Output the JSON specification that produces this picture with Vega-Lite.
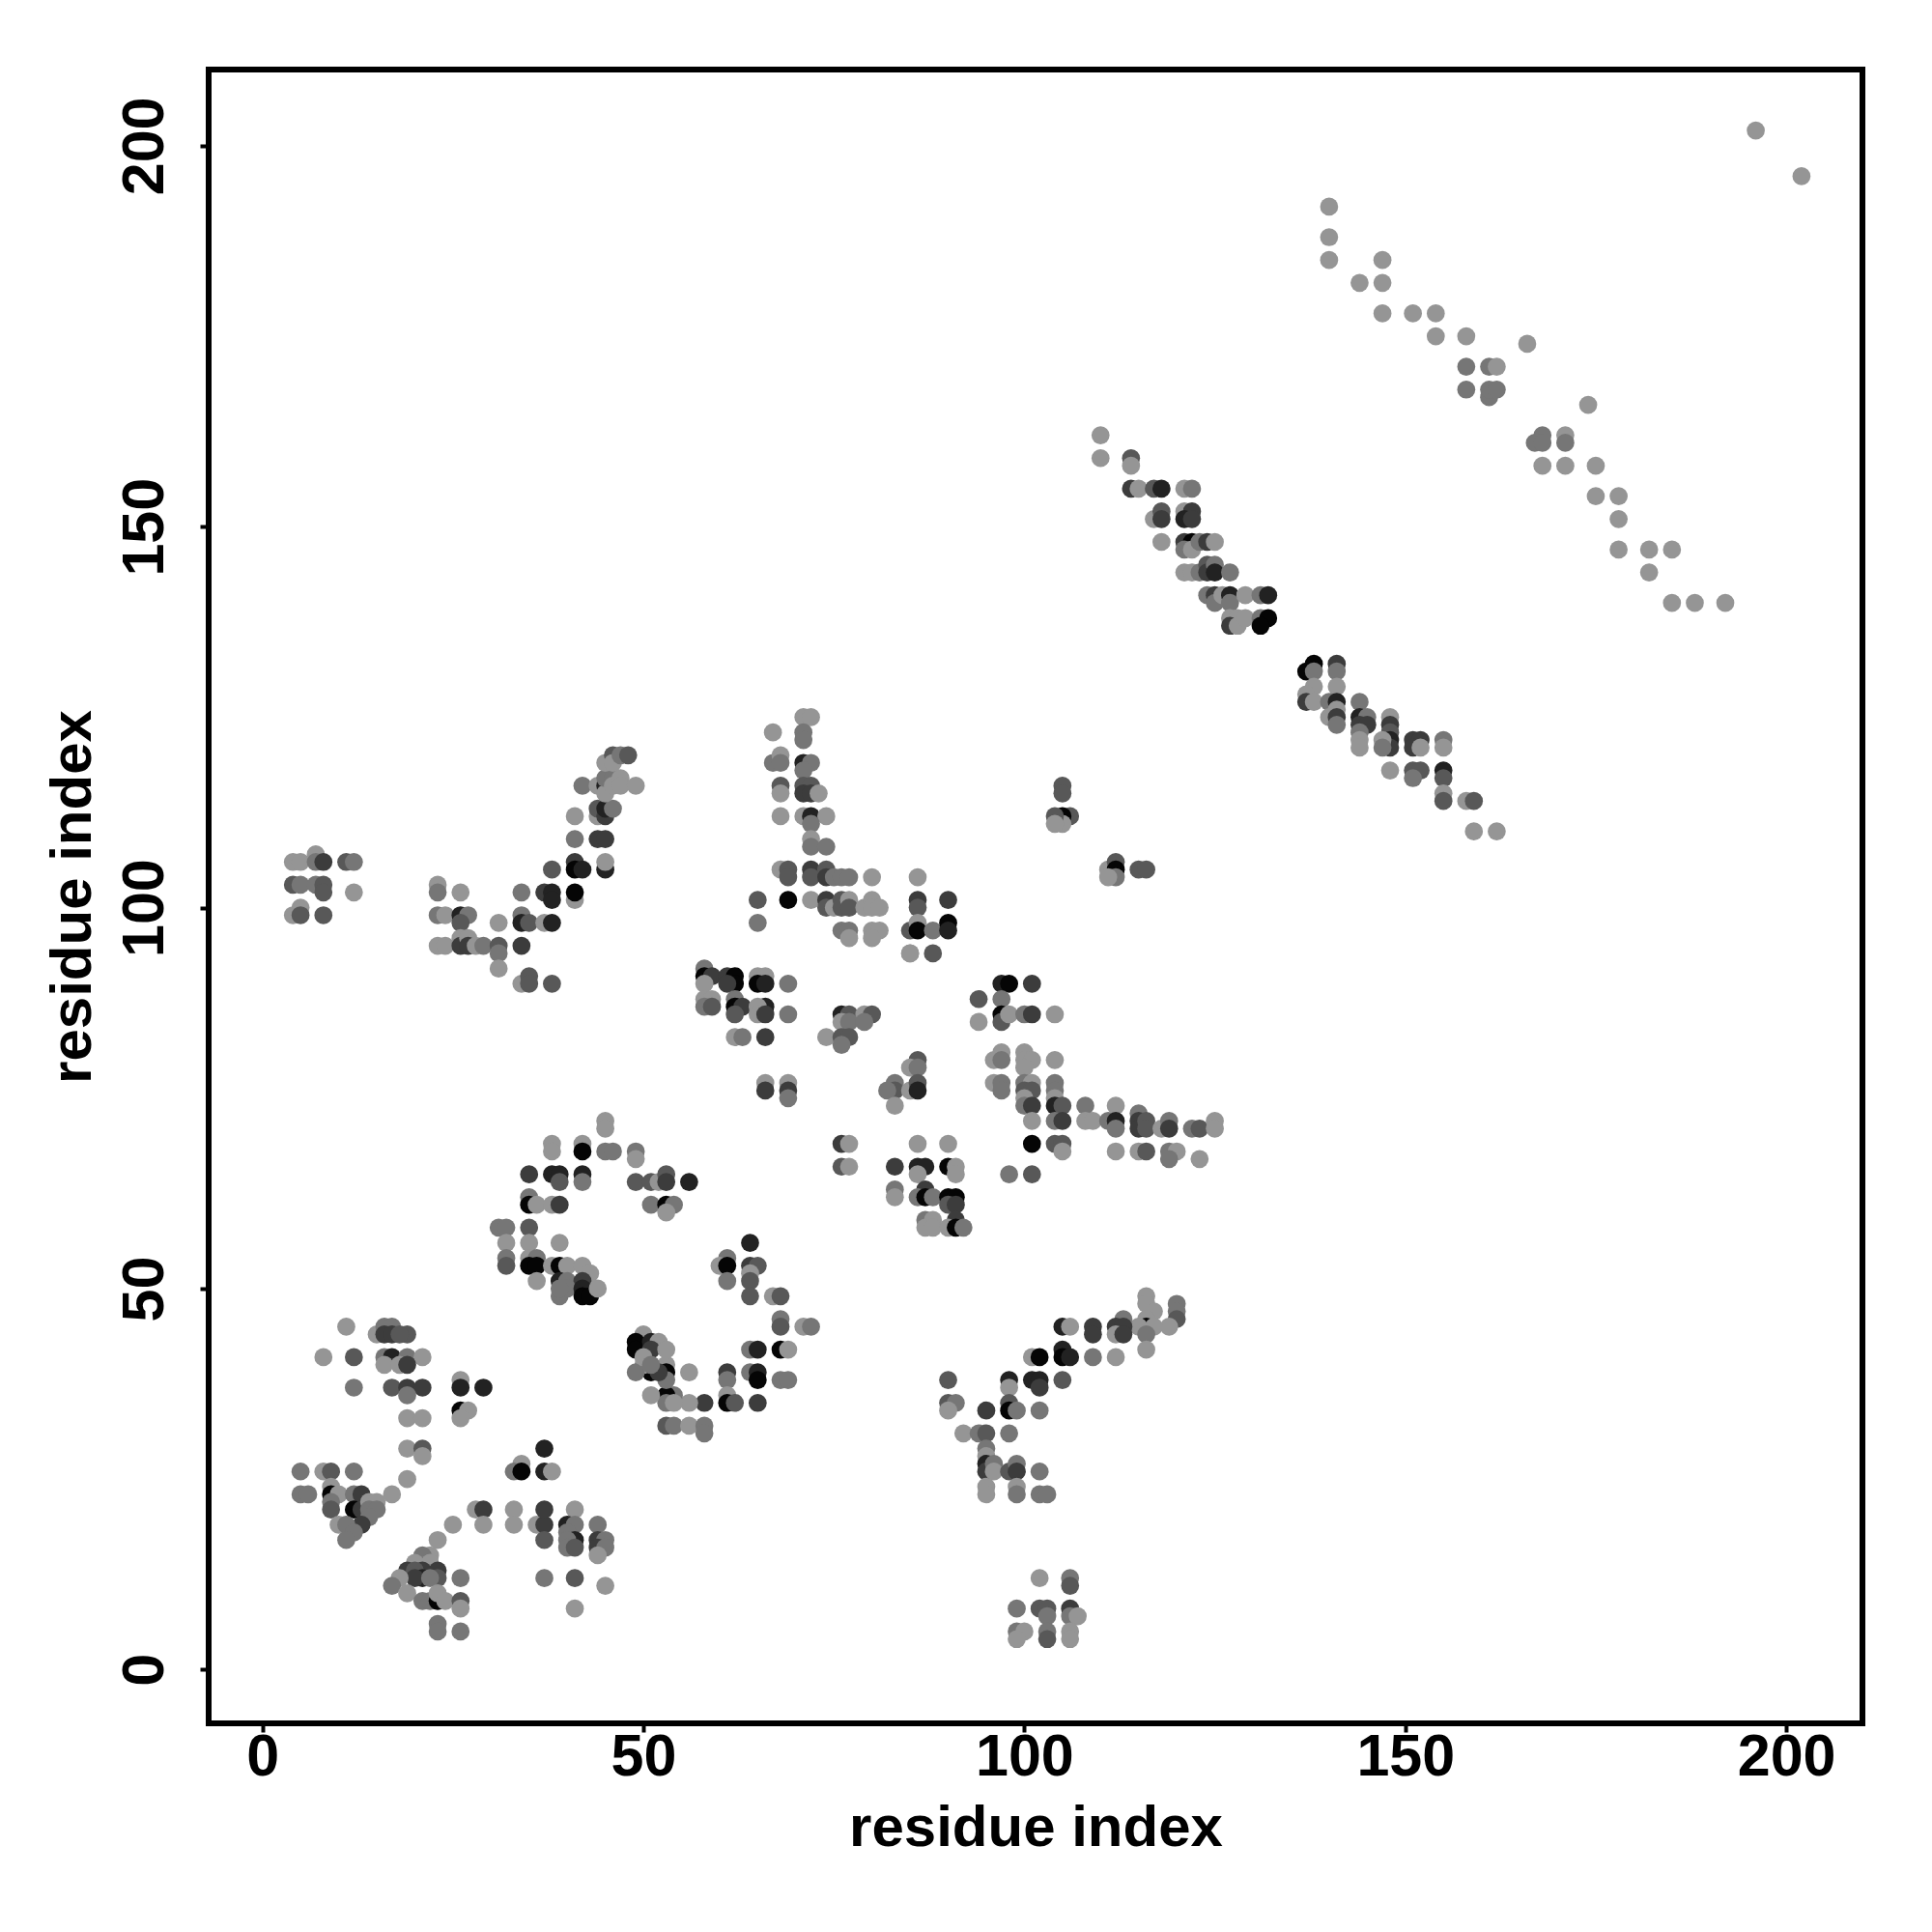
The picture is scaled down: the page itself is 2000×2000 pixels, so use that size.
{"$schema":"https://vega.github.io/schema/vega-lite/v6.json","width":1712,"height":1712,"autosize":{"type":"none"},"padding":{"left":216,"top":72,"right":72,"bottom":216},"background":"white","config":{"view":{"stroke":"#000","strokeWidth":6},"font":"Liberation Sans"},
"data":{"values":[
{"x":11,"y":45,"s":1},{"x":15,"y":44,"s":1},{"x":16,"y":45,"s":2},{"x":17,"y":45,"s":2},{"x":19,"y":44,"s":3},{"x":16,"y":44,"s":4},{"x":17,"y":44,"s":4},{"x":18,"y":44,"s":3},
{"x":8,"y":41,"s":1},{"x":12,"y":41,"s":3},{"x":16,"y":41,"s":2},{"x":17,"y":41,"s":5},{"x":19,"y":41,"s":2},{"x":21,"y":41,"s":1},{"x":16,"y":40,"s":1},{"x":18,"y":40,"s":1},{"x":19,"y":40,"s":4},
{"x":12,"y":37,"s":2},{"x":17,"y":37,"s":3},{"x":19,"y":37,"s":4},{"x":21,"y":37,"s":4},{"x":19,"y":36,"s":2},{"x":19,"y":33,"s":1},{"x":21,"y":33,"s":1},{"x":19,"y":29,"s":1},{"x":21,"y":29,"s":3},{"x":21,"y":28,"s":1},
{"x":26,"y":38,"s":1},{"x":26,"y":37,"s":5},{"x":29,"y":37,"s":5},{"x":26,"y":34,"s":6},{"x":27,"y":34,"s":1},{"x":26,"y":33,"s":1},{"x":37,"y":29,"s":5},{"x":34,"y":27,"s":1},{"x":33,"y":26,"s":2},{"x":34,"y":26,"s":6},{"x":37,"y":26,"s":5},{"x":38,"y":26,"s":1},
{"x":5,"y":26,"s":2},{"x":8,"y":26,"s":1},{"x":9,"y":26,"s":3},{"x":12,"y":26,"s":2},{"x":5,"y":23,"s":2},{"x":6,"y":23,"s":2},{"x":9,"y":24,"s":1},{"x":9,"y":23,"s":6},{"x":10,"y":23,"s":1},{"x":9,"y":22,"s":2},{"x":9,"y":21,"s":3},{"x":12,"y":23,"s":2},{"x":13,"y":23,"s":4},{"x":12,"y":21,"s":6},{"x":13,"y":21,"s":4},{"x":14,"y":22,"s":1},{"x":15,"y":22,"s":1},{"x":14,"y":21,"s":2},{"x":15,"y":21,"s":2},{"x":17,"y":23,"s":1},{"x":14,"y":20,"s":2},{"x":13,"y":19,"s":4},{"x":10,"y":19,"s":1},{"x":11,"y":19,"s":2},{"x":12,"y":18,"s":2},{"x":11,"y":17,"s":2},{"x":19,"y":25,"s":1},
{"x":23,"y":17,"s":1},{"x":25,"y":19,"s":1},{"x":28,"y":21,"s":1},{"x":29,"y":21,"s":4},{"x":29,"y":19,"s":1},{"x":33,"y":21,"s":1},{"x":33,"y":19,"s":1},{"x":36,"y":19,"s":1},{"x":37,"y":19,"s":4},{"x":37,"y":21,"s":4},{"x":37,"y":17,"s":3},{"x":41,"y":21,"s":1},{"x":40,"y":19,"s":5},{"x":41,"y":19,"s":2},{"x":40,"y":18,"s":2},{"x":41,"y":17,"s":5},{"x":40,"y":17,"s":2},{"x":40,"y":16,"s":2},{"x":41,"y":16,"s":3},{"x":44,"y":19,"s":2},{"x":44,"y":17,"s":4},{"x":45,"y":17,"s":2},{"x":44,"y":16,"s":4},{"x":45,"y":16,"s":2},{"x":44,"y":15,"s":1},{"x":37,"y":12,"s":2},{"x":41,"y":12,"s":3},{"x":45,"y":11,"s":1},{"x":41,"y":8,"s":1},
{"x":22,"y":15,"s":1},{"x":21,"y":15,"s":2},{"x":20,"y":14,"s":1},{"x":22,"y":14,"s":1},{"x":23,"y":13,"s":4},{"x":19,"y":13,"s":4},{"x":21,"y":13,"s":4},{"x":20,"y":13,"s":3},{"x":26,"y":12,"s":2},{"x":23,"y":12,"s":3},{"x":21,"y":12,"s":5},{"x":20,"y":12,"s":4},{"x":22,"y":12,"s":2},{"x":18,"y":12,"s":1},{"x":17,"y":11,"s":2},{"x":19,"y":10,"s":1},{"x":21,"y":9,"s":2},{"x":22,"y":9,"s":2},{"x":23,"y":9,"s":6},{"x":23,"y":10,"s":1},{"x":24,"y":9,"s":1},{"x":26,"y":9,"s":3},{"x":26,"y":8,"s":1},{"x":23,"y":6,"s":2},{"x":23,"y":5,"s":2},{"x":26,"y":5,"s":2},
{"x":45,"y":72,"s":1},{"x":45,"y":71,"s":1},{"x":38,"y":69,"s":1},{"x":38,"y":68,"s":1},{"x":42,"y":69,"s":1},{"x":42,"y":68,"s":6},{"x":45,"y":68,"s":2},{"x":46,"y":68,"s":2},{"x":49,"y":68,"s":2},{"x":49,"y":67,"s":1},{"x":35,"y":65,"s":4},{"x":38,"y":65,"s":5},{"x":39,"y":65,"s":5},{"x":39,"y":64,"s":3},{"x":42,"y":65,"s":5},{"x":42,"y":64,"s":2},{"x":49,"y":64,"s":3},{"x":51,"y":64,"s":3},{"x":52,"y":64,"s":1},{"x":53,"y":65,"s":3},{"x":53,"y":64,"s":4},{"x":56,"y":64,"s":5},{"x":35,"y":62,"s":2},{"x":35,"y":61,"s":6},{"x":36,"y":61,"s":1},{"x":38,"y":61,"s":1},{"x":39,"y":61,"s":4},{"x":51,"y":61,"s":2},{"x":53,"y":61,"s":6},{"x":54,"y":61,"s":2},{"x":53,"y":60,"s":1},
{"x":31,"y":58,"s":2},{"x":32,"y":58,"s":2},{"x":35,"y":58,"s":3},{"x":32,"y":56,"s":1},{"x":35,"y":56,"s":1},{"x":39,"y":56,"s":1},{"x":32,"y":54,"s":2},{"x":32,"y":53,"s":3},{"x":35,"y":54,"s":1},{"x":36,"y":54,"s":2},{"x":35,"y":53,"s":6},{"x":36,"y":53,"s":6},{"x":36,"y":51,"s":1},{"x":38,"y":53,"s":1},{"x":39,"y":53,"s":6},{"x":40,"y":53,"s":1},{"x":42,"y":53,"s":1},{"x":39,"y":51,"s":5},{"x":40,"y":51,"s":2},{"x":43,"y":52,"s":1},{"x":42,"y":51,"s":4},{"x":39,"y":49,"s":2},{"x":40,"y":50,"s":2},{"x":39,"y":50,"s":2},{"x":42,"y":50,"s":5},{"x":42,"y":49,"s":6},{"x":43,"y":49,"s":6},{"x":44,"y":50,"s":1},
{"x":61,"y":54,"s":2},{"x":60,"y":53,"s":1},{"x":61,"y":53,"s":6},{"x":64,"y":56,"s":5},{"x":64,"y":53,"s":4},{"x":65,"y":53,"s":3},{"x":64,"y":52,"s":1},{"x":64,"y":51,"s":3},{"x":61,"y":51,"s":2},{"x":64,"y":49,"s":3},{"x":67,"y":49,"s":1},{"x":68,"y":49,"s":3},{"x":68,"y":46,"s":2},{"x":68,"y":45,"s":3},{"x":71,"y":45,"s":1},{"x":72,"y":45,"s":2},{"x":64,"y":42,"s":2},{"x":65,"y":42,"s":5},{"x":68,"y":42,"s":6},{"x":69,"y":42,"s":1},{"x":61,"y":39,"s":4},{"x":61,"y":38,"s":2},{"x":64,"y":39,"s":2},{"x":65,"y":39,"s":5},{"x":65,"y":38,"s":6},{"x":68,"y":38,"s":2},{"x":69,"y":38,"s":2},{"x":61,"y":36,"s":1},{"x":61,"y":35,"s":6},{"x":62,"y":35,"s":3},{"x":65,"y":35,"s":4},{"x":58,"y":35,"s":4},{"x":56,"y":35,"s":1},{"x":54,"y":36,"s":2},{"x":53,"y":36,"s":6},{"x":53,"y":35,"s":2},{"x":54,"y":35,"s":1},{"x":51,"y":36,"s":1},{"x":53,"y":32,"s":3},{"x":54,"y":32,"s":2},{"x":56,"y":32,"s":1},{"x":58,"y":32,"s":2},{"x":58,"y":31,"s":2},{"x":56,"y":39,"s":1},{"x":53,"y":40,"s":1},{"x":53,"y":39,"s":6},{"x":53,"y":38,"s":2},{"x":51,"y":39,"s":6},{"x":50,"y":40,"s":1},{"x":49,"y":39,"s":2},{"x":52,"y":39,"s":4},{"x":50,"y":44,"s":1},{"x":49,"y":43,"s":6},{"x":49,"y":42,"s":6},{"x":51,"y":43,"s":5},{"x":52,"y":43,"s":1},{"x":51,"y":42,"s":4},{"x":53,"y":42,"s":1},{"x":50,"y":41,"s":1},{"x":51,"y":40,"s":2},
{"x":85,"y":94,"s":1},{"x":88,"y":94,"s":3},{"x":97,"y":90,"s":5},{"x":98,"y":90,"s":6},{"x":101,"y":90,"s":4},{"x":94,"y":88,"s":3},{"x":97,"y":88,"s":2},{"x":94,"y":85,"s":1},{"x":97,"y":86,"s":6},{"x":97,"y":85,"s":3},{"x":98,"y":86,"s":1},{"x":100,"y":86,"s":2},{"x":101,"y":86,"s":4},{"x":104,"y":86,"s":1},{"x":97,"y":81,"s":1},{"x":96,"y":80,"s":1},{"x":97,"y":80,"s":2},{"x":100,"y":81,"s":1},{"x":100,"y":80,"s":1},{"x":101,"y":80,"s":1},{"x":100,"y":79,"s":1},{"x":104,"y":80,"s":1},{"x":96,"y":77,"s":1},{"x":97,"y":77,"s":2},{"x":97,"y":76,"s":2},{"x":100,"y":77,"s":2},{"x":101,"y":77,"s":1},{"x":100,"y":76,"s":3},{"x":101,"y":76,"s":3},{"x":100,"y":75,"s":1},{"x":104,"y":77,"s":2},{"x":104,"y":76,"s":2},{"x":104,"y":75,"s":1},{"x":100,"y":74,"s":2},{"x":101,"y":74,"s":4},{"x":104,"y":74,"s":5},{"x":105,"y":74,"s":3},{"x":101,"y":72,"s":1},{"x":104,"y":72,"s":2},{"x":105,"y":72,"s":4},{"x":108,"y":74,"s":2},{"x":108,"y":72,"s":1},{"x":109,"y":72,"s":1},{"x":111,"y":72,"s":2},{"x":112,"y":74,"s":1},{"x":112,"y":72,"s":5},{"x":112,"y":71,"s":2},{"x":115,"y":73,"s":2},{"x":115,"y":72,"s":4},{"x":115,"y":71,"s":4},{"x":116,"y":72,"s":3},{"x":116,"y":71,"s":3},{"x":118,"y":71,"s":1},{"x":119,"y":72,"s":2},{"x":119,"y":71,"s":4},{"x":122,"y":71,"s":2},{"x":123,"y":71,"s":3},{"x":125,"y":72,"s":1},{"x":125,"y":71,"s":1},{"x":101,"y":69,"s":6},{"x":104,"y":69,"s":3},{"x":105,"y":69,"s":3},{"x":105,"y":68,"s":1},{"x":112,"y":68,"s":1},{"x":115,"y":68,"s":1},{"x":116,"y":68,"s":3},{"x":119,"y":68,"s":2},{"x":120,"y":68,"s":1},{"x":119,"y":67,"s":2},{"x":123,"y":67,"s":1},{"x":98,"y":65,"s":2},{"x":101,"y":65,"s":3},
{"x":86,"y":69,"s":1},{"x":90,"y":69,"s":1},{"x":83,"y":66,"s":4},{"x":86,"y":66,"s":5},{"x":87,"y":66,"s":5},{"x":90,"y":66,"s":6},{"x":91,"y":66,"s":1},{"x":86,"y":65,"s":1},{"x":91,"y":65,"s":1},{"x":83,"y":63,"s":2},{"x":83,"y":62,"s":1},{"x":87,"y":63,"s":4},{"x":86,"y":62,"s":2},{"x":87,"y":62,"s":6},{"x":88,"y":62,"s":2},{"x":90,"y":62,"s":6},{"x":91,"y":62,"s":6},{"x":90,"y":61,"s":3},{"x":91,"y":61,"s":4},{"x":87,"y":59,"s":2},{"x":88,"y":59,"s":1},{"x":87,"y":58,"s":1},{"x":88,"y":58,"s":1},{"x":91,"y":59,"s":4},{"x":90,"y":58,"s":1},{"x":91,"y":58,"s":6},{"x":92,"y":58,"s":2},{"x":86,"y":80,"s":3},{"x":85,"y":79,"s":1},{"x":86,"y":79,"s":2},{"x":83,"y":77,"s":2},{"x":83,"y":76,"s":3},{"x":82,"y":76,"s":2},{"x":85,"y":76,"s":1},{"x":86,"y":77,"s":3},{"x":86,"y":76,"s":5},{"x":83,"y":74,"s":1},
{"x":116,"y":49,"s":1},{"x":116,"y":48,"s":1},{"x":120,"y":48,"s":2},{"x":120,"y":47,"s":2},{"x":120,"y":46,"s":3},{"x":117,"y":47,"s":1},{"x":119,"y":45,"s":1},{"x":116,"y":46,"s":1},{"x":116,"y":45,"s":6},{"x":117,"y":45,"s":1},{"x":115,"y":45,"s":1},{"x":116,"y":44,"s":2},{"x":116,"y":42,"s":1},{"x":113,"y":46,"s":2},{"x":112,"y":45,"s":4},{"x":113,"y":45,"s":4},{"x":112,"y":44,"s":1},{"x":113,"y":44,"s":4},{"x":109,"y":45,"s":4},{"x":109,"y":44,"s":4},{"x":105,"y":45,"s":5},{"x":106,"y":45,"s":1},{"x":109,"y":41,"s":2},{"x":112,"y":41,"s":1},{"x":105,"y":42,"s":5},{"x":105,"y":41,"s":6},{"x":106,"y":41,"s":5},{"x":101,"y":41,"s":1},{"x":102,"y":41,"s":6},{"x":98,"y":38,"s":5},{"x":101,"y":38,"s":5},{"x":102,"y":38,"s":5},{"x":102,"y":37,"s":4},{"x":98,"y":37,"s":1},{"x":105,"y":38,"s":3},{"x":90,"y":38,"s":3},{"x":90,"y":35,"s":3},{"x":91,"y":35,"s":2},{"x":90,"y":34,"s":1},{"x":95,"y":34,"s":4},{"x":98,"y":35,"s":3},{"x":98,"y":34,"s":6},{"x":99,"y":34,"s":2},{"x":102,"y":34,"s":2},{"x":92,"y":31,"s":1},{"x":94,"y":31,"s":2},{"x":95,"y":31,"s":3},{"x":98,"y":31,"s":2},{"x":95,"y":29,"s":2},{"x":95,"y":28,"s":1},{"x":95,"y":27,"s":5},{"x":95,"y":26,"s":4},{"x":96,"y":27,"s":2},{"x":96,"y":26,"s":1},{"x":98,"y":26,"s":3},{"x":99,"y":27,"s":2},{"x":99,"y":26,"s":4},{"x":102,"y":26,"s":2},{"x":95,"y":24,"s":1},{"x":95,"y":23,"s":1},{"x":99,"y":24,"s":1},{"x":99,"y":23,"s":2},{"x":102,"y":23,"s":2},{"x":103,"y":23,"s":2},{"x":102,"y":12,"s":1},{"x":106,"y":12,"s":2},{"x":106,"y":11,"s":3},{"x":99,"y":8,"s":2},{"x":102,"y":8,"s":3},{"x":103,"y":8,"s":3},{"x":106,"y":8,"s":4},{"x":103,"y":7,"s":2},{"x":106,"y":7,"s":2},{"x":107,"y":7,"s":1},{"x":99,"y":5,"s":2},{"x":100,"y":5,"s":1},{"x":99,"y":4,"s":1},{"x":103,"y":5,"s":2},{"x":103,"y":4,"s":3},{"x":106,"y":5,"s":1},{"x":106,"y":4,"s":1},
{"x":4,"y":106,"s":1},{"x":5,"y":106,"s":1},{"x":7,"y":107,"s":1},{"x":7,"y":106,"s":2},{"x":8,"y":106,"s":4},{"x":11,"y":106,"s":3},{"x":12,"y":106,"s":2},{"x":4,"y":103,"s":3},{"x":5,"y":103,"s":2},{"x":7,"y":103,"s":2},{"x":8,"y":103,"s":3},{"x":8,"y":102,"s":3},{"x":12,"y":102,"s":1},{"x":4,"y":99,"s":1},{"x":5,"y":100,"s":1},{"x":5,"y":99,"s":3},{"x":8,"y":99,"s":3},{"x":23,"y":103,"s":1},{"x":23,"y":102,"s":2},{"x":26,"y":102,"s":1},{"x":23,"y":99,"s":2},{"x":24,"y":99,"s":1},{"x":26,"y":99,"s":5},{"x":27,"y":99,"s":2},{"x":26,"y":98,"s":3},{"x":23,"y":95,"s":1},{"x":24,"y":95,"s":1},{"x":26,"y":96,"s":1},{"x":26,"y":95,"s":4},{"x":27,"y":96,"s":1},{"x":27,"y":95,"s":4},{"x":28,"y":95,"s":1},{"x":29,"y":95,"s":2},{"x":31,"y":98,"s":1},{"x":31,"y":95,"s":3},{"x":31,"y":94,"s":2},{"x":31,"y":92,"s":1},{"x":34,"y":102,"s":2},{"x":34,"y":99,"s":2},{"x":34,"y":98,"s":5},{"x":35,"y":98,"s":3},{"x":37,"y":98,"s":1},{"x":38,"y":98,"s":5},{"x":34,"y":95,"s":4},{"x":34,"y":90,"s":1},{"x":35,"y":91,"s":3},{"x":35,"y":90,"s":3},{"x":38,"y":90,"s":3},{"x":37,"y":102,"s":4},{"x":38,"y":102,"s":5},{"x":38,"y":101,"s":5},{"x":41,"y":101,"s":1},{"x":41,"y":102,"s":6},{"x":38,"y":105,"s":3},{"x":41,"y":106,"s":4},{"x":41,"y":105,"s":6},{"x":42,"y":105,"s":5},{"x":41,"y":112,"s":1},{"x":41,"y":109,"s":2},{"x":44,"y":109,"s":4},{"x":45,"y":109,"s":4},{"x":45,"y":105,"s":5},{"x":45,"y":106,"s":1},{"x":44,"y":112,"s":1},{"x":44,"y":113,"s":3},{"x":45,"y":112,"s":4},{"x":45,"y":113,"s":5},{"x":46,"y":113,"s":2},{"x":42,"y":116,"s":2},{"x":44,"y":116,"s":1},{"x":45,"y":116,"s":5},{"x":45,"y":115,"s":1},{"x":45,"y":117,"s":2},{"x":46,"y":117,"s":2},{"x":46,"y":116,"s":1},{"x":47,"y":117,"s":1},{"x":47,"y":116,"s":1},{"x":49,"y":116,"s":1},{"x":45,"y":119,"s":1},{"x":46,"y":120,"s":3},{"x":46,"y":119,"s":1},{"x":47,"y":120,"s":2},{"x":48,"y":120,"s":3},
{"x":71,"y":125,"s":1},{"x":72,"y":125,"s":1},{"x":67,"y":123,"s":1},{"x":71,"y":123,"s":2},{"x":71,"y":122,"s":2},{"x":67,"y":119,"s":2},{"x":68,"y":120,"s":1},{"x":68,"y":119,"s":2},{"x":71,"y":119,"s":5},{"x":72,"y":119,"s":2},{"x":71,"y":118,"s":2},{"x":68,"y":116,"s":3},{"x":68,"y":115,"s":1},{"x":71,"y":116,"s":3},{"x":72,"y":116,"s":3},{"x":71,"y":115,"s":4},{"x":72,"y":115,"s":4},{"x":73,"y":115,"s":1},{"x":68,"y":112,"s":1},{"x":71,"y":112,"s":1},{"x":72,"y":112,"s":5},{"x":74,"y":112,"s":1},{"x":72,"y":111,"s":2},{"x":72,"y":109,"s":1},{"x":72,"y":108,"s":2},{"x":74,"y":108,"s":2},{"x":68,"y":105,"s":1},{"x":69,"y":105,"s":3},{"x":69,"y":104,"s":3},{"x":72,"y":105,"s":4},{"x":72,"y":104,"s":3},{"x":74,"y":105,"s":3},{"x":74,"y":104,"s":4},{"x":75,"y":104,"s":2},{"x":76,"y":104,"s":2},{"x":77,"y":104,"s":2},{"x":80,"y":104,"s":1},{"x":86,"y":104,"s":1},{"x":65,"y":101,"s":3},{"x":69,"y":101,"s":6},{"x":72,"y":101,"s":1},{"x":74,"y":101,"s":4},{"x":74,"y":100,"s":3},{"x":75,"y":100,"s":1},{"x":76,"y":101,"s":3},{"x":76,"y":100,"s":3},{"x":77,"y":101,"s":1},{"x":77,"y":100,"s":3},{"x":79,"y":100,"s":1},{"x":80,"y":101,"s":1},{"x":80,"y":100,"s":1},{"x":81,"y":100,"s":1},{"x":86,"y":101,"s":4},{"x":86,"y":100,"s":3},{"x":90,"y":101,"s":4},{"x":65,"y":98,"s":2},{"x":76,"y":97,"s":2},{"x":77,"y":97,"s":2},{"x":77,"y":96,"s":1},{"x":80,"y":97,"s":1},{"x":81,"y":97,"s":1},{"x":80,"y":96,"s":1},{"x":85,"y":97,"s":3},{"x":86,"y":98,"s":1},{"x":86,"y":97,"s":6},{"x":88,"y":97,"s":2},{"x":90,"y":98,"s":6},{"x":90,"y":97,"s":5},{"x":85,"y":94,"s":1},
{"x":58,"y":92,"s":2},{"x":58,"y":91,"s":6},{"x":59,"y":91,"s":4},{"x":58,"y":90,"s":1},{"x":61,"y":91,"s":4},{"x":62,"y":91,"s":6},{"x":62,"y":90,"s":6},{"x":61,"y":90,"s":4},{"x":65,"y":91,"s":1},{"x":66,"y":91,"s":1},{"x":65,"y":90,"s":6},{"x":66,"y":90,"s":5},{"x":69,"y":90,"s":2},{"x":58,"y":88,"s":1},{"x":59,"y":88,"s":1},{"x":58,"y":87,"s":2},{"x":59,"y":87,"s":3},{"x":62,"y":88,"s":2},{"x":62,"y":87,"s":6},{"x":63,"y":87,"s":4},{"x":62,"y":86,"s":3},{"x":66,"y":87,"s":5},{"x":65,"y":87,"s":1},{"x":65,"y":86,"s":1},{"x":66,"y":86,"s":4},{"x":69,"y":86,"s":2},{"x":62,"y":83,"s":1},{"x":63,"y":83,"s":2},{"x":66,"y":83,"s":4},{"x":76,"y":86,"s":5},{"x":77,"y":86,"s":3},{"x":79,"y":86,"s":1},{"x":80,"y":86,"s":3},{"x":76,"y":85,"s":1},{"x":77,"y":85,"s":2},{"x":79,"y":85,"s":2},{"x":74,"y":83,"s":1},{"x":76,"y":83,"s":3},{"x":77,"y":83,"s":3},{"x":76,"y":82,"s":2},{"x":66,"y":77,"s":1},{"x":66,"y":76,"s":4},{"x":69,"y":77,"s":1},{"x":69,"y":76,"s":4},{"x":69,"y":75,"s":2},{"x":76,"y":69,"s":4},{"x":77,"y":69,"s":1},{"x":76,"y":66,"s":3},{"x":77,"y":66,"s":1},
{"x":110,"y":162,"s":1},{"x":110,"y":159,"s":1},{"x":114,"y":159,"s":3},{"x":114,"y":158,"s":1},{"x":114,"y":155,"s":4},{"x":115,"y":155,"s":1},{"x":117,"y":155,"s":3},{"x":118,"y":155,"s":5},{"x":121,"y":155,"s":1},{"x":122,"y":155,"s":2},{"x":117,"y":151,"s":1},{"x":118,"y":152,"s":3},{"x":118,"y":151,"s":4},{"x":121,"y":152,"s":1},{"x":122,"y":152,"s":4},{"x":121,"y":151,"s":5},{"x":122,"y":151,"s":4},{"x":118,"y":148,"s":1},{"x":121,"y":148,"s":4},{"x":122,"y":148,"s":6},{"x":121,"y":147,"s":2},{"x":122,"y":147,"s":1},{"x":123,"y":148,"s":2},{"x":124,"y":148,"s":4},{"x":125,"y":148,"s":1},{"x":121,"y":144,"s":1},{"x":122,"y":144,"s":1},{"x":123,"y":144,"s":2},{"x":124,"y":145,"s":3},{"x":124,"y":144,"s":4},{"x":125,"y":145,"s":2},{"x":125,"y":144,"s":5},{"x":127,"y":144,"s":2},{"x":124,"y":141,"s":2},{"x":125,"y":141,"s":4},{"x":125,"y":140,"s":2},{"x":126,"y":141,"s":1},{"x":127,"y":141,"s":5},{"x":127,"y":140,"s":2},{"x":129,"y":141,"s":1},{"x":131,"y":141,"s":2},{"x":132,"y":141,"s":5},{"x":127,"y":138,"s":1},{"x":128,"y":138,"s":1},{"x":127,"y":137,"s":4},{"x":128,"y":137,"s":1},{"x":129,"y":138,"s":1},{"x":131,"y":138,"s":2},{"x":132,"y":138,"s":6},{"x":131,"y":137,"s":6},
{"x":137,"y":131,"s":6},{"x":138,"y":132,"s":6},{"x":138,"y":131,"s":2},{"x":141,"y":132,"s":4},{"x":141,"y":131,"s":2},{"x":138,"y":129,"s":1},{"x":141,"y":129,"s":1},{"x":137,"y":128,"s":1},{"x":137,"y":127,"s":4},{"x":138,"y":127,"s":1},{"x":140,"y":127,"s":2},{"x":141,"y":127,"s":5},{"x":141,"y":126,"s":1},{"x":140,"y":125,"s":1},{"x":141,"y":125,"s":4},{"x":141,"y":124,"s":2},{"x":144,"y":127,"s":2},{"x":144,"y":125,"s":5},{"x":145,"y":125,"s":2},{"x":144,"y":124,"s":4},{"x":145,"y":124,"s":4},{"x":144,"y":123,"s":2},{"x":144,"y":122,"s":1},{"x":144,"y":121,"s":1},{"x":148,"y":125,"s":1},{"x":148,"y":124,"s":4},{"x":148,"y":123,"s":3},{"x":148,"y":122,"s":5},{"x":148,"y":121,"s":4},{"x":147,"y":122,"s":1},{"x":147,"y":121,"s":2},{"x":151,"y":122,"s":4},{"x":152,"y":122,"s":4},{"x":151,"y":121,"s":4},{"x":152,"y":121,"s":1},{"x":155,"y":122,"s":2},{"x":155,"y":121,"s":1},{"x":148,"y":118,"s":1},{"x":151,"y":118,"s":3},{"x":152,"y":118,"s":3},{"x":151,"y":117,"s":2},{"x":155,"y":118,"s":5},{"x":155,"y":117,"s":3},{"x":155,"y":115,"s":1},{"x":155,"y":114,"s":3},{"x":158,"y":114,"s":1},{"x":159,"y":114,"s":3},{"x":159,"y":110,"s":1},{"x":162,"y":110,"s":1},
{"x":105,"y":116,"s":3},{"x":105,"y":115,"s":3},{"x":106,"y":112,"s":3},{"x":105,"y":112,"s":6},{"x":105,"y":111,"s":1},{"x":104,"y":112,"s":3},{"x":104,"y":111,"s":1},{"x":111,"y":105,"s":1},{"x":112,"y":106,"s":3},{"x":112,"y":105,"s":6},{"x":112,"y":104,"s":2},{"x":111,"y":104,"s":1},{"x":115,"y":105,"s":3},{"x":116,"y":105,"s":3},
{"x":140,"y":192,"s":1},{"x":140,"y":188,"s":1},{"x":140,"y":185,"s":1},{"x":144,"y":182,"s":1},{"x":147,"y":185,"s":1},{"x":147,"y":182,"s":1},{"x":147,"y":178,"s":1},{"x":151,"y":178,"s":1},{"x":154,"y":178,"s":1},{"x":154,"y":175,"s":1},{"x":158,"y":175,"s":1},{"x":158,"y":171,"s":2},{"x":161,"y":171,"s":2},{"x":162,"y":171,"s":1},{"x":158,"y":168,"s":2},{"x":161,"y":167,"s":2},{"x":161,"y":168,"s":2},{"x":162,"y":168,"s":2},{"x":166,"y":174,"s":1},{"x":174,"y":166,"s":1},{"x":167,"y":161,"s":2},{"x":168,"y":162,"s":2},{"x":168,"y":161,"s":2},{"x":168,"y":158,"s":1},{"x":171,"y":162,"s":1},{"x":171,"y":161,"s":2},{"x":171,"y":158,"s":1},{"x":175,"y":158,"s":1},{"x":175,"y":154,"s":1},{"x":178,"y":154,"s":1},{"x":178,"y":151,"s":1},{"x":178,"y":147,"s":1},{"x":182,"y":147,"s":1},{"x":182,"y":144,"s":1},{"x":185,"y":147,"s":1},{"x":185,"y":140,"s":1},{"x":188,"y":140,"s":1},{"x":192,"y":140,"s":1},{"x":196,"y":202,"s":1},{"x":202,"y":196,"s":1}
]},
"mark":{"type":"circle","size":350,"opacity":1},
"encoding":{
"x":{"field":"x","type":"quantitative","scale":{"domain":[-7.06,210],"nice":false,"zero":false},"axis":{"title":"residue index","values":[0,50,100,150,200],"grid":false,"domain":false,"tickColor":"#000","tickWidth":4,"tickSize":9,"labelFont":"Liberation Sans","labelFontWeight":"bold","labelFontSize":61,"labelColor":"#000","labelPadding":-4,"titleFont":"Liberation Sans","titleFontWeight":"bold","titleFontSize":60,"titleColor":"#000","titlePadding":14,"labelFlush":false}},
"y":{"field":"y","type":"quantitative","scale":{"domain":[-7.06,210],"nice":false,"zero":false},"axis":{"title":"residue index","values":[0,50,100,150,200],"grid":false,"domain":false,"tickColor":"#000","tickWidth":4,"tickSize":9,"labelFont":"Liberation Sans","labelFontWeight":"bold","labelFontSize":61,"labelColor":"#000","labelAngle":-90,"labelAlign":"center","labelBaseline":"bottom","labelPadding":26,"titleFont":"Liberation Sans","titleFontWeight":"bold","titleFontSize":60,"titleColor":"#000","titlePadding":13}},
"color":{"field":"s","type":"quantitative","legend":null,"scale":{"domain":[1,6],"range":["#959595","#050505"]}},
"order":[{"field":"x","type":"quantitative"},{"field":"y","type":"quantitative"}]
}}
